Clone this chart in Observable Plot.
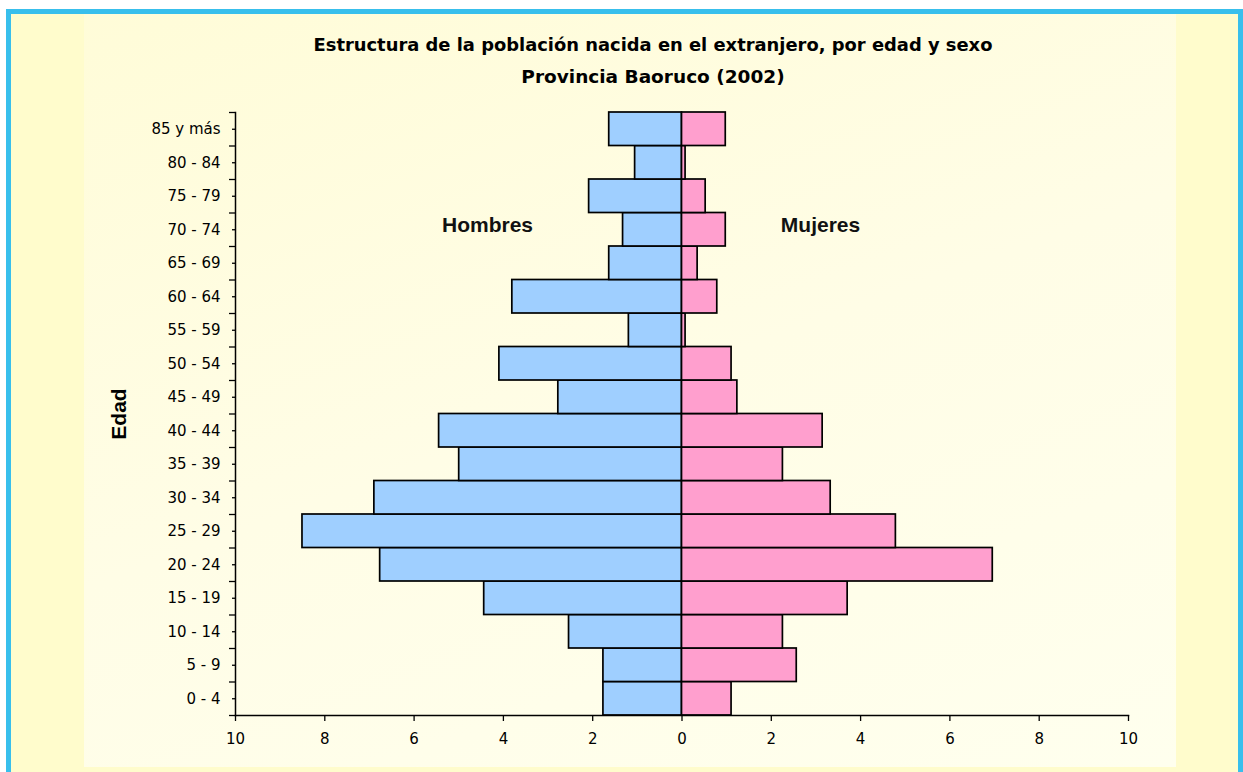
<!DOCTYPE html>
<html>
<head>
<meta charset="utf-8">
<script src="https://cdn.jsdelivr.net/npm/d3@7"></script>
<script src="https://cdn.jsdelivr.net/npm/@observablehq/plot@0.6"></script>
<style>
  html, body { margin: 0; padding: 0; background: #ffffff; overflow: hidden; width: 1243px; height: 772px; }
  #frame { position: absolute; left: 6px; top: 9px; width: 1227px; height: 780px;
           border: 5px solid #38bfec; border-bottom: none; background: #fffccc; }
  #area { position: absolute; left: 73px; top: 0; width: 1092px; height: 753px;
          background: linear-gradient(160deg, #fffcd8 0%, #fffde6 50%, #ffffee 100%); }
  #titles { height: 80px; box-sizing: border-box; padding-top: 15px; position: relative; left: 23px;
            text-align: center; font-family: "DejaVu Sans", sans-serif; font-weight: bold;
            font-size: 18.5px; color: #000; }
  #titles div { height: 32px; line-height: 32px; white-space: nowrap; }
  #titles div.t1 { font-size: 17.9px; }
  #chart svg { display: block; }
</style>
</head>
<body>
<div id="frame">
  <div id="area">
    <div id="titles">
      <div class="t1">Estructura de la población nacida en el extranjero, por edad y sexo</div>
      <div>Provincia Baoruco (2002)</div>
    </div>
    <div id="chart"></div>
  </div>
</div>
<script>
// Age groups, bottom to top
const ages = ["0 - 4","5 - 9","10 - 14","15 - 19","20 - 24","25 - 29","30 - 34","35 - 39","40 - 44",
              "45 - 49","50 - 54","55 - 59","60 - 64","65 - 69","70 - 74","75 - 79","80 - 84","85 y más"];
// Percentages
const hombres = [1.76, 1.76, 2.53, 4.43, 6.76, 8.50, 6.89, 4.99, 5.44, 2.77, 4.09, 1.19, 3.80, 1.63, 1.32, 2.08, 1.05, 1.63];
const mujeres = [1.11, 2.57, 2.26, 3.71, 6.96, 4.79, 3.33, 2.26, 3.15, 1.24, 1.11, 0.08, 0.79, 0.35, 0.98, 0.53, 0.08, 0.98];
const xTicks = [-10, -8, -6, -4, -2, 0, 2, 4, 6, 8, 10];
const seriesLabels = ["Hombres", "Mujeres"];
const axisTitle = "Edad";

const table = ages.map((a, i) => ({ age: a, i, h: hombres[i], m: mujeres[i] }));

const chart = Plot.plot({
  width: 1092,
  height: 673,
  marginLeft: 151,
  marginRight: 48,
  marginTop: 18,
  marginBottom: 52,
  x: { domain: [-10, 10] },
  y: { domain: [0, ages.length] },
  style: { background: "transparent", fontFamily: "DejaVu Sans, sans-serif", fontSize: "15px", color: "#000", overflow: "visible" },
  marks: [
    Plot.rect(table, { x1: 0, x2: d => -d.h, y1: "i", y2: d => d.i + 1, fill: "#9fcfff", stroke: "#000", strokeWidth: 1.7 }),
    Plot.rect(table, { x1: 0, x2: "m", y1: "i", y2: d => d.i + 1, fill: "#ff9fce", stroke: "#000", strokeWidth: 1.7 }),
    Plot.frame({ anchor: "left", stroke: "#000", strokeWidth: 1.5 }),
    Plot.frame({ anchor: "bottom", stroke: "#000", strokeWidth: 1.5 }),
    Plot.axisY({ ticks: d3.range(ages.length + 1), tickSize: 6, tickFormat: () => "", label: null, strokeWidth: 1.3 }),
    Plot.axisY({ ticks: d3.range(ages.length).map(i => i + 0.5), tickSize: 3, tickPadding: 12,
                 tickFormat: d => ages[Math.floor(d)], label: null, fontSize: 15, strokeWidth: 1.3 }),
    Plot.axisX({ ticks: xTicks, tickFormat: d => Math.abs(d), tickSize: 6, tickPadding: 12, label: null, fontSize: 15, strokeWidth: 1.3 }),
    Plot.text([seriesLabels[0]], { frameAnchor: "top", dx: -194.5, dy: 105, fontSize: 21, fontWeight: "bold",
                                   fontFamily: "Liberation Sans, Arial, sans-serif", fill: "#111" }),
    Plot.text([seriesLabels[1]], { frameAnchor: "top", dx: 138.5, dy: 105, fontSize: 21, fontWeight: "bold",
                                   fontFamily: "Liberation Sans, Arial, sans-serif", fill: "#111" }),
    Plot.text([axisTitle], { frameAnchor: "left", textAnchor: "middle", dx: -116, rotate: -90, fontSize: 21, fontWeight: "bold",
                             fontFamily: "Liberation Sans, Arial, sans-serif", fill: "#000" })
  ]
});
document.getElementById("chart").appendChild(chart);
</script>
</body>
</html>
